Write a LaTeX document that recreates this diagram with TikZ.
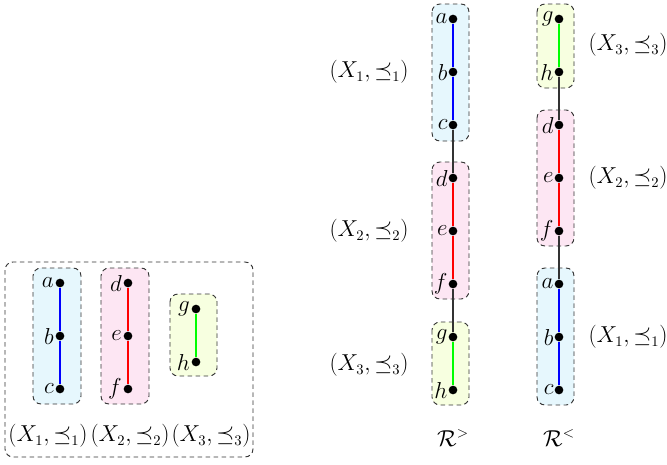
\documentclass[tikz,border=0pt]{standalone}
\usepackage{amssymb}
\begin{document}
\begin{tikzpicture}[x=0.75pt,y=-0.75pt,
  dot/.style={circle,fill=black,inner sep=0pt,minimum size=6.5pt},
  grp/.style={draw=black!80,dash pattern=on 3.5pt off 2.5pt,rounded corners=6pt,line width=0.7pt},
  lbl/.style={font=\fontsize{16}{18}\selectfont},
  vlab/.style={font=\fontsize{17}{19}\selectfont,anchor=east,inner sep=0.5pt},
  edg/.style={line width=0.8pt}]
\useasboundingbox (0,0) rectangle (667,464);
% ---------- left panel ----------
\draw[grp] (5,262) rectangle (253,457);
\filldraw[grp,fill=cyan!10] (33,268) rectangle (81,404);
\filldraw[grp,fill=magenta!10] (101,268) rectangle (149,404);
\filldraw[grp,fill=lime!12] (170,294) rectangle (217,376);
\node[dot] (la) at (60,283) {};
\node[dot] (lb) at (60,336) {};
\node[dot] (lc) at (60,389) {};
\node[dot] (ld) at (128,283) {};
\node[dot] (le) at (128,336) {};
\node[dot] (lf) at (128,389) {};
\node[dot] (lg) at (196,309) {};
\node[dot] (lh) at (196,362) {};
\draw[edg,blue] (la) -- (lb) -- (lc);
\draw[edg,red] (ld) -- (le) -- (lf);
\draw[edg,green] (lg) -- (lh);
\foreach \n/\t in {la/a,lb/b,lc/c,ld/d,le/e,lf/f,lg/g,lh/h}
  \node[vlab] (t\n) at ([xshift=-0.5pt]\n.west) {$\t$};
\node[lbl] (L1) at (48,436) {$(X_1,\preceq_1)$};
\node[lbl] (L2) at (130,436) {$(X_2,\preceq_2)$};
\node[lbl] (L3) at (211,436) {$(X_3,\preceq_3)$};
% ---------- middle column ----------
\filldraw[grp,fill=cyan!10] (432,4) rectangle (469,141);
\filldraw[grp,fill=magenta!10] (432,162) rectangle (469,299);
\filldraw[grp,fill=lime!12] (432,322) rectangle (469,405);
\node[dot] (ma) at (453,19) {};
\node[dot] (mb) at (453,72) {};
\node[dot] (mc) at (453,125) {};
\node[dot] (md) at (453,178) {};
\node[dot] (me) at (453,231) {};
\node[dot] (mf) at (453,284) {};
\node[dot] (mg) at (453,337) {};
\node[dot] (mh) at (453,390) {};
\draw[edg,blue] (ma) -- (mb) -- (mc);
\draw[edg,red] (md) -- (me) -- (mf);
\draw[edg,green] (mg) -- (mh);
\draw[edg,black!80] (mc) -- (md);
\draw[edg,black!80] (mf) -- (mg);
\foreach \n/\t in {ma/a,mb/b,mc/c,md/d,me/e,mf/f,mg/g,mh/h}
  \node[vlab] (t\n) at (\n.west) {$\t$};
\node[lbl] (M1) at (369,72) {$(X_1,\preceq_1)$};
\node[lbl] (M2) at (369,231) {$(X_2,\preceq_2)$};
\node[lbl] (M3) at (369,365) {$(X_3,\preceq_3)$};
\node[lbl] (RG) at (453,438) {$\mathcal{R}^{>}$};
% ---------- right column ----------
\filldraw[grp,fill=lime!12] (537,4) rectangle (574,88);
\filldraw[grp,fill=magenta!10] (537,110) rectangle (574,246);
\filldraw[grp,fill=cyan!10] (537,268) rectangle (574,405);
\node[dot] (rg) at (559,19) {};
\node[dot] (rh) at (559,72) {};
\node[dot] (rd) at (559,125) {};
\node[dot] (re) at (559,178) {};
\node[dot] (rf) at (559,231) {};
\node[dot] (ra) at (559,284) {};
\node[dot] (rb) at (559,337) {};
\node[dot] (rc) at (559,390) {};
\draw[edg,green] (rg) -- (rh);
\draw[edg,red] (rd) -- (re) -- (rf);
\draw[edg,blue] (ra) -- (rb) -- (rc);
\draw[edg,black!80] (rh) -- (rd);
\draw[edg,black!80] (rf) -- (ra);
\foreach \n/\t in {rg/g,rh/h,rd/d,re/e,rf/f,ra/a,rb/b,rc/c}
  \node[vlab] (t\n) at (\n.west) {$\t$};
\node[lbl] (N3) at (628,45) {$(X_3,\preceq_3)$};
\node[lbl] (N2) at (628,178) {$(X_2,\preceq_2)$};
\node[lbl] (N1) at (628,337) {$(X_1,\preceq_1)$};
\node[lbl] (RL) at (559,438) {$\mathcal{R}^{<}$};
\end{tikzpicture}
\end{document}
